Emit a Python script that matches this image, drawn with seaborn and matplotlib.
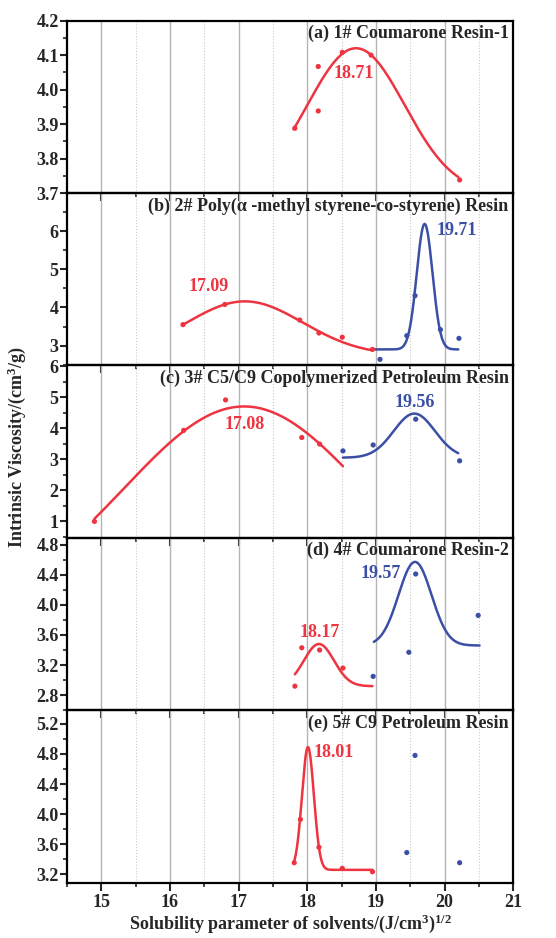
import numpy as np
import matplotlib
matplotlib.use("Agg")
import matplotlib.pyplot as plt
import seaborn as sns
from matplotlib.ticker import MultipleLocator, FormatStrFormatter

# ---- data ----
x_a_red = [17.82, 18.16, 18.16, 18.51, 18.93, 20.22]
y_a_red = [3.888, 4.067, 3.938, 4.108, 4.100, 3.738]

x_b_red = [16.19, 16.80, 17.89, 18.17, 18.51, 18.95]
y_b_red = [3.55, 4.08, 3.67, 3.33, 3.22, 2.90]
x_b_blue = [19.06, 19.45, 19.57, 19.94, 20.21]
y_b_blue = [2.64, 3.26, 4.31, 3.42, 3.19]

x_c_red = [14.90, 16.20, 16.81, 17.92, 18.18]
y_c_red = [1.00, 3.93, 4.91, 3.70, 3.49]
x_c_blue = [18.52, 18.96, 19.58, 20.22]
y_c_blue = [3.27, 3.46, 4.29, 2.95]

x_d_red = [17.82, 17.92, 18.18, 18.52]
y_d_red = [2.92, 3.43, 3.40, 3.16]
x_d_blue = [18.96, 19.48, 19.58, 20.49]
y_d_blue = [3.05, 3.37, 4.41, 3.86]

x_e_red = [17.81, 17.90, 18.17, 18.51, 18.95]
y_e_red = [3.355, 3.93, 3.56, 3.28, 3.235]
x_e_blue = [19.45, 19.57, 20.22]
y_e_blue = [3.49, 4.78, 3.355]

# Gaussian fits: centre, baseline, amplitude, width, x start, x end
fit_a_red = [18.71, 3.70, 0.42, 0.71, 17.80, 20.20]
fit_b_red = [17.09, 2.75, 1.41, 0.845, 16.19, 18.95]
fit_b_blue = [19.71, 2.90, 3.29, 0.115, 18.98, 20.20]
fit_c_red = [17.08, -2.0, 6.7, 1.75, 14.90, 18.52]
fit_c_blue = [19.56, 3.05, 1.42, 0.30, 18.52, 20.20]
fit_d_red = [18.17, 2.92, 0.56, 0.22, 17.82, 18.95]
fit_d_blue = [19.57, 3.46, 1.11, 0.24, 18.97, 20.51]
fit_e_red = [18.01, 3.26, 1.63, 0.087, 17.80, 18.95]

titles = ["(a) 1# Coumarone Resin-1",
          "(b) 2# Poly(α -methyl styrene-co-styrene) Resin",
          "(c) 3# C5/C9 Copolymerized Petroleum Resin",
          "(d) 4# Coumarone Resin-2",
          "(e) 5# C9 Petroleum Resin"]

RED = "#ee3440"
BLUE = "#3b4fa6"

sns.set_style("white")
plt.rcParams["font.family"] = ["Liberation Serif", "DejaVu Serif"]
plt.rcParams["font.weight"] = "bold"
plt.rcParams["mathtext.fontset"] = "custom"
plt.rcParams["mathtext.rm"] = "Liberation Serif:bold"
plt.rcParams["mathtext.bf"] = "Liberation Serif:bold"
plt.rcParams["mathtext.default"] = "bf"


def gauss_curve(p):
    xc, y0, a, w, x0, x1 = p
    xs = np.linspace(x0, x1, 300)
    return xs, y0 + a * np.exp(-(xs - xc) ** 2 / (2 * w ** 2))


def draw(ax, xs, ys, fit, color):
    cx, cy = gauss_curve(fit)
    sns.lineplot(x=cx, y=cy, ax=ax, color=color, lw=1.8, zorder=3)
    sns.scatterplot(x=xs, y=ys, ax=ax, color=color, s=14, edgecolor="none", zorder=4)


fig, axes = plt.subplots(5, 1, figsize=(5.56, 9.38), dpi=100, sharex=True)
fig.subplots_adjust(left=0.1205, right=0.923, top=0.978, bottom=0.059, hspace=0)

panels = [
    [(x_a_red, y_a_red, fit_a_red, RED)],
    [(x_b_red, y_b_red, fit_b_red, RED), (x_b_blue, y_b_blue, fit_b_blue, BLUE)],
    [(x_c_red, y_c_red, fit_c_red, RED), (x_c_blue, y_c_blue, fit_c_blue, BLUE)],
    [(x_d_red, y_d_red, fit_d_red, RED), (x_d_blue, y_d_blue, fit_d_blue, BLUE)],
    [(x_e_red, y_e_red, fit_e_red, RED)],
]
ylims = [(3.7, 4.2), (2.48, 7.0), (0.47, 6.02), (2.6, 4.89), (3.09, 5.38)]
yticks = [[3.7, 3.8, 3.9, 4.0, 4.1, 4.2], [3, 4, 5, 6], [1, 2, 3, 4, 5, 6],
          [2.8, 3.2, 3.6, 4.0, 4.4, 4.8], [3.2, 3.6, 4.0, 4.4, 4.8, 5.2]]
yminor = [0.05, 0.5, 0.5, 0.2, 0.2]
yfmt = ["%.1f", "%d", "%d", "%.1f", "%.1f"]

peak_labels = [
    [("18.71", 18.67, 4.048, RED)],
    [("17.09", 16.56, 4.56, RED), ("19.71", 20.18, 6.02, BLUE)],
    [("17.08", 17.09, 4.11, RED), ("19.56", 19.57, 4.83, BLUE)],
    [("18.17", 18.18, 3.63, RED), ("19.57", 19.07, 4.41, BLUE)],
    [("18.01", 18.38, 4.82, RED)],
]

for i, ax in enumerate(axes):
    ax.patch.set_visible(False)
    for xs, ys, fit, col in panels[i]:
        draw(ax, xs, ys, fit, col)
    # blue points without a fit in panel (e)
    if i == 4:
        sns.scatterplot(x=x_e_blue, y=y_e_blue, ax=ax, color=BLUE, s=14,
                        edgecolor="none", zorder=4)
    for txt, tx, ty, col in peak_labels[i]:
        ax.text(tx, ty, txt, color=col, fontsize=13, fontweight="bold",
                ha="center", va="center", zorder=5)
    ax.text(0.99, 0.975, titles[i], transform=ax.transAxes, ha="right", va="top",
            fontsize=13, fontweight="bold", zorder=5)

    ax.set_xlim(14.5, 21)
    ax.set_ylim(*ylims[i])
    ax.set_yticks(yticks[i])
    ax.yaxis.set_minor_locator(MultipleLocator(yminor[i]))
    ax.yaxis.set_major_formatter(FormatStrFormatter(yfmt[i]))
    ax.xaxis.set_major_locator(MultipleLocator(1))
    ax.xaxis.set_minor_locator(MultipleLocator(0.5))

    ax.grid(True, axis="x", which="major", color="#b4b4b4", lw=1.0, ls="-")
    ax.grid(True, axis="x", which="minor", color="#c8c8c8", lw=0.8, ls=":")
    ax.grid(False, axis="y", which="both")
    ax.set_axisbelow(True)

    for s in ax.spines.values():
        s.set_visible(True)
        s.set_color("black")
        s.set_linewidth(1.6)
    ax.tick_params(axis="y", which="major", direction="out", length=5, width=1.5,
                   left=True, labelsize=13, pad=1)
    ax.tick_params(axis="y", which="minor", direction="out", length=3, width=1.2, left=True)
    ax.tick_params(axis="x", which="major", direction="out", length=6, width=1.5,
                   bottom=True, labelsize=13, pad=2)
    ax.tick_params(axis="x", which="minor", direction="out", length=3, width=1.2, bottom=True)
    ax.set_xlabel("")
    ax.set_ylabel("")

axes[-1].set_xlabel(r"Solubility parameter of solvents/(J/cm$^{3}$)$^{1/2}$",
                    fontsize=13, fontweight="bold", labelpad=1)
fig.text(0.03, 0.523, r"Intrinsic Viscosity/(cm$^{3}$/g)", rotation=90,
         ha="center", va="center", fontsize=13, fontweight="bold")

fig.savefig("out.png", dpi=100, facecolor="white")
